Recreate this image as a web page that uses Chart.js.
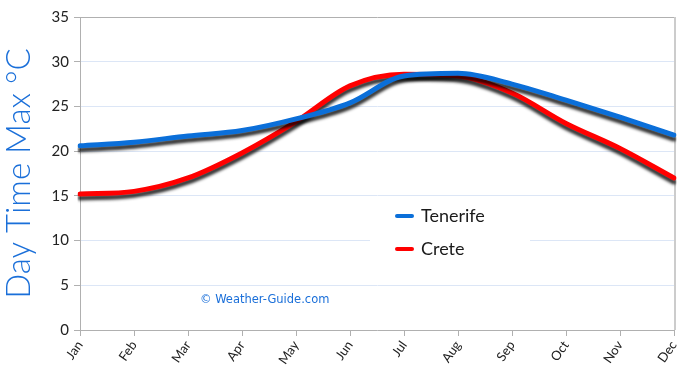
<!DOCTYPE html>
<html>
<head>
<meta charset="utf-8">
<script src="https://cdn.jsdelivr.net/npm/chart.js@4/dist/chart.umd.min.js"></script>
<style>
html,body{margin:0;padding:0;background:#fff;}
#wrap{width:690px;height:375px;position:relative;}
</style>
</head>
<body>
<div id="wrap"><canvas id="c" width="690" height="375"></canvas></div>
<script>
const months = ["Jan","Feb","Mar","Apr","May","Jun","Jul","Aug","Sep","Oct","Nov","Dec"];
const tenerife = [20.6, 21.0, 21.7, 22.3, 23.6, 25.4, 28.4, 28.7, 27.5, 25.7, 23.8, 21.8];
const crete    = [15.2, 15.5, 17.0, 19.8, 23.3, 27.3, 28.6, 28.4, 26.5, 23.1, 20.3, 17.0];
const yTicks   = [0, 5, 10, 15, 20, 25, 30, 35];
const seriesNames = ["Tenerife", "Crete"];
const seriesColors = ["#0b6fd9", "#ff0000"];
const axisTitle = "Day Time Max °C";
const watermark = "© Weather-Guide.com";

const shadowPlugin = {
  id: 'shadow',
  beforeDatasetDraw(chart) {
    const ctx = chart.ctx;
    ctx.save();
    ctx.shadowColor = 'rgba(0,0,0,0.8)';
    ctx.shadowBlur = 3;
    ctx.shadowOffsetX = 0;
    ctx.shadowOffsetY = 4;
  },
  afterDatasetDraw(chart) {
    chart.ctx.restore();
  }
};

const decorPlugin = {
  id: 'decor',
  beforeDatasetsDraw(chart) {
    const ctx = chart.ctx, a = chart.chartArea;
    const ys = chart.scales.y;
    ctx.save();
    ctx.fillStyle = '#fff';
    ctx.fillRect(370, ys.getPixelForValue(14), 160, ys.getPixelForValue(7) - ys.getPixelForValue(14));
    ctx.strokeStyle = '#cccccc';
    ctx.lineWidth = 2;
    ctx.beginPath();
    ctx.moveTo(a.right + 1, a.top);
    ctx.lineTo(a.right + 1, a.bottom);
    ctx.stroke();
    ctx.fillStyle = '#1a6fd9';
    ctx.font = '11.5px "DejaVu Sans"';
    ctx.textBaseline = 'middle';
    ctx.textAlign = 'left';
    ctx.fillText(watermark, 200, 300);
    ctx.restore();
  },
  afterDatasetsDraw(chart) {
    const ctx = chart.ctx;
    ctx.save();
    ctx.font = '18px "Comic Sans MS", "Lato", sans-serif';
    ctx.textBaseline = 'middle';
    ctx.textAlign = 'left';
    chart.data.datasets.forEach((ds, i) => {
      const y = 216 + i * 33;
      ctx.strokeStyle = ds.borderColor;
      ctx.lineWidth = 4;
      ctx.lineCap = 'round';
      ctx.beginPath();
      ctx.moveTo(397, y);
      ctx.lineTo(412, y);
      ctx.stroke();
      ctx.fillStyle = '#1a1a1a';
      ctx.fillText(ds.label, 421, y);
    });
    ctx.restore();
  }
};

new Chart(document.getElementById('c'), {
  type: 'line',
  data: {
    labels: months,
    datasets: [
      { label: seriesNames[0], data: tenerife, borderColor: seriesColors[0], backgroundColor: seriesColors[0] },
      { label: seriesNames[1], data: crete, borderColor: seriesColors[1], backgroundColor: seriesColors[1] }
    ]
  },
  options: {
    responsive: false,
    animation: false,
    events: [],
    layout: { padding: { top: 17, right: 16, left: 0, bottom: 0 } },
    elements: {
      line: { borderWidth: 5, tension: 0.4, cubicInterpolationMode: 'monotone', borderCapStyle: 'round' },
      point: { radius: 0 }
    },
    plugins: { legend: { display: false }, tooltip: { enabled: false } },
    scales: {
      x: {
        offset: false,
        grid: { drawOnChartArea: false, tickLength: 6, color: '#b0b0b0', tickColor: '#b0b0b0' },
        border: { color: '#b0b0b0', width: 1 },
        ticks: { color: '#222', font: { family: 'Lato', size: 13 }, minRotation: 55, maxRotation: 55, padding: 2 },
        afterFit(s) { s.height = 45; }
      },
      y: {
        min: 0, max: 35,
        afterBuildTicks(s) { s.ticks = yTicks.map(v => ({ value: v })); },
        grid: {
          color: ctx => (ctx.tick && ctx.tick.value === 35) ? '#b0b0b0' : '#dce6f6',
          tickColor: '#b0b0b0',
          tickLength: 6
        },
        border: { color: '#b0b0b0', width: 1 },
        ticks: { color: '#222', font: { family: 'Lato', size: 15 }, padding: 5 },
        title: { display: true, text: axisTitle, color: '#1a6fd9', font: { family: 'Lato', size: 33, weight: 300 }, padding: { top: 0, bottom: 4 } },
        afterFit(s) { s.width = 80; }
      }
    }
  },
  plugins: [shadowPlugin, decorPlugin]
});
</script>
</body>
</html>
